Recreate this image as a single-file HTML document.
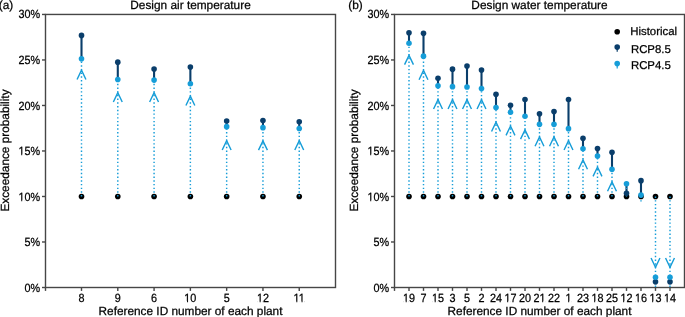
<!DOCTYPE html>
<html><head><meta charset="utf-8"><style>
html,body{margin:0;padding:0;background:#fff;}
body{width:685px;height:317px;overflow:hidden;}
svg{display:block;will-change:transform;}
text{font-family:"Liberation Sans", sans-serif;fill:#000;stroke:#000;stroke-width:0.25px;text-rendering:geometricPrecision;}
</style></head><body>
<svg width="685" height="317" viewBox="0 0 685 317">
<rect width="685" height="317" fill="#fff"/>
<rect x="45.5" y="14.45" width="290.0" height="273.05" fill="none" stroke="#464646" stroke-width="1.4"/>
<line x1="42.0" y1="287.50" x2="45.5" y2="287.50" stroke="#464646" stroke-width="1.4"/>
<text id="t1" transform="translate(40.20,292.00) scale(0.91,1)" text-anchor="end" font-size="11.9">0%</text>
<line x1="42.0" y1="241.99" x2="45.5" y2="241.99" stroke="#464646" stroke-width="1.4"/>
<text id="t2" transform="translate(40.20,246.00) scale(0.91,1)" text-anchor="end" font-size="11.9">5%</text>
<line x1="42.0" y1="196.48" x2="45.5" y2="196.48" stroke="#464646" stroke-width="1.4"/>
<text id="t3" transform="translate(40.20,201.00) scale(0.91,1)" text-anchor="end" font-size="11.9">10%</text><g transform="translate(40.20,201.00) scale(0.91,1)"><rect x="-23.49" y="-1.06" width="2.66" height="2.06" fill="#fff"/><rect x="-19.75" y="-1.06" width="2.39" height="2.06" fill="#fff"/></g>
<line x1="42.0" y1="150.97" x2="45.5" y2="150.97" stroke="#464646" stroke-width="1.4"/>
<text id="t4" transform="translate(40.20,155.00) scale(0.91,1)" text-anchor="end" font-size="11.9">15%</text><g transform="translate(40.20,155.00) scale(0.91,1)"><rect x="-23.49" y="-1.06" width="2.66" height="2.06" fill="#fff"/><rect x="-19.75" y="-1.06" width="2.39" height="2.06" fill="#fff"/></g>
<line x1="42.0" y1="105.47" x2="45.5" y2="105.47" stroke="#464646" stroke-width="1.4"/>
<text id="t5" transform="translate(40.20,110.00) scale(0.91,1)" text-anchor="end" font-size="11.9">20%</text>
<line x1="42.0" y1="59.96" x2="45.5" y2="59.96" stroke="#464646" stroke-width="1.4"/>
<text id="t6" transform="translate(40.20,64.00) scale(0.91,1)" text-anchor="end" font-size="11.9">25%</text>
<line x1="42.0" y1="14.45" x2="45.5" y2="14.45" stroke="#464646" stroke-width="1.4"/>
<text id="t7" transform="translate(40.20,18.00) scale(0.91,1)" text-anchor="end" font-size="11.9">30%</text>
<line x1="45.50" y1="287.5" x2="45.50" y2="290.9" stroke="#464646" stroke-width="1.4"/>
<line x1="81.50" y1="287.5" x2="81.50" y2="290.9" stroke="#464646" stroke-width="1.4"/>
<text id="t8" transform="translate(81.50,302.00) scale(0.91,1)" text-anchor="middle" font-size="11.9">8</text>
<line x1="117.79" y1="287.5" x2="117.79" y2="290.9" stroke="#464646" stroke-width="1.4"/>
<text id="t9" transform="translate(117.79,302.00) scale(0.91,1)" text-anchor="middle" font-size="11.9">9</text>
<line x1="154.08" y1="287.5" x2="154.08" y2="290.9" stroke="#464646" stroke-width="1.4"/>
<text id="t10" transform="translate(154.08,302.00) scale(0.91,1)" text-anchor="middle" font-size="11.9">6</text>
<line x1="190.37" y1="287.5" x2="190.37" y2="290.9" stroke="#464646" stroke-width="1.4"/>
<text id="t11" transform="translate(190.37,302.00) scale(0.91,1)" text-anchor="middle" font-size="11.9">10</text><g transform="translate(190.37,302.00) scale(0.91,1)"><rect x="-6.30" y="-1.06" width="2.66" height="2.06" fill="#fff"/><rect x="-2.56" y="-1.06" width="2.39" height="2.06" fill="#fff"/></g>
<line x1="226.66" y1="287.5" x2="226.66" y2="290.9" stroke="#464646" stroke-width="1.4"/>
<text id="t12" transform="translate(226.66,302.00) scale(0.91,1)" text-anchor="middle" font-size="11.9">5</text>
<line x1="262.95" y1="287.5" x2="262.95" y2="290.9" stroke="#464646" stroke-width="1.4"/>
<text id="t13" transform="translate(262.95,302.00) scale(0.91,1)" text-anchor="middle" font-size="11.9">12</text><g transform="translate(262.95,302.00) scale(0.91,1)"><rect x="-6.30" y="-1.06" width="2.66" height="2.06" fill="#fff"/><rect x="-2.56" y="-1.06" width="2.39" height="2.06" fill="#fff"/></g>
<line x1="299.24" y1="287.5" x2="299.24" y2="290.9" stroke="#464646" stroke-width="1.4"/>
<text id="t14" transform="translate(299.24,302.00) scale(0.91,1)" text-anchor="middle" font-size="11.9">11</text><g transform="translate(299.24,302.00) scale(0.91,1)"><rect x="-5.85" y="-1.06" width="2.66" height="2.06" fill="#fff"/><rect x="-2.11" y="-1.06" width="2.39" height="2.06" fill="#fff"/><rect x="-0.13" y="-1.06" width="2.66" height="2.06" fill="#fff"/><rect x="3.61" y="-1.06" width="2.39" height="2.06" fill="#fff"/></g>
<circle cx="81.50" cy="196.48" r="2.8" fill="#000"/>
<circle cx="117.79" cy="196.48" r="2.8" fill="#000"/>
<circle cx="154.08" cy="196.48" r="2.8" fill="#000"/>
<circle cx="190.37" cy="196.48" r="2.8" fill="#000"/>
<circle cx="226.66" cy="196.48" r="2.8" fill="#000"/>
<circle cx="262.95" cy="196.48" r="2.8" fill="#000"/>
<circle cx="299.24" cy="196.48" r="2.8" fill="#000"/>
<line x1="81.50" y1="35.4" x2="81.50" y2="58.8" stroke="#0a3e6b" stroke-width="2.1"/>
<line x1="117.79" y1="62.15" x2="117.79" y2="79.55" stroke="#0a3e6b" stroke-width="2.1"/>
<line x1="154.08" y1="69.05" x2="154.08" y2="80.1" stroke="#0a3e6b" stroke-width="2.1"/>
<line x1="190.37" y1="67.05" x2="190.37" y2="83.75" stroke="#0a3e6b" stroke-width="2.1"/>
<line x1="226.66" y1="120.95" x2="226.66" y2="126.65" stroke="#0a3e6b" stroke-width="2.1"/>
<line x1="262.95" y1="120.45" x2="262.95" y2="127.65" stroke="#0a3e6b" stroke-width="2.1"/>
<line x1="299.24" y1="121.75" x2="299.24" y2="128.55" stroke="#0a3e6b" stroke-width="2.1"/>
<line x1="81.50" y1="196.48" x2="81.50" y2="58.8" stroke="#169dd8" stroke-width="1.45" stroke-dasharray="1.4 2.31"/>
<line x1="117.79" y1="196.48" x2="117.79" y2="79.55" stroke="#169dd8" stroke-width="1.45" stroke-dasharray="1.4 2.31"/>
<line x1="154.08" y1="196.48" x2="154.08" y2="80.1" stroke="#169dd8" stroke-width="1.45" stroke-dasharray="1.4 2.31"/>
<line x1="190.37" y1="196.48" x2="190.37" y2="83.75" stroke="#169dd8" stroke-width="1.45" stroke-dasharray="1.4 2.31"/>
<line x1="226.66" y1="196.48" x2="226.66" y2="126.65" stroke="#169dd8" stroke-width="1.45" stroke-dasharray="1.4 2.31"/>
<line x1="262.95" y1="196.48" x2="262.95" y2="127.65" stroke="#169dd8" stroke-width="1.45" stroke-dasharray="1.4 2.31"/>
<line x1="299.24" y1="196.48" x2="299.24" y2="128.55" stroke="#169dd8" stroke-width="1.45" stroke-dasharray="1.4 2.31"/>
<circle cx="81.50" cy="35.4" r="2.8" fill="#0a3e6b"/>
<circle cx="117.79" cy="62.15" r="2.8" fill="#0a3e6b"/>
<circle cx="154.08" cy="69.05" r="2.8" fill="#0a3e6b"/>
<circle cx="190.37" cy="67.05" r="2.8" fill="#0a3e6b"/>
<circle cx="226.66" cy="120.95" r="2.8" fill="#0a3e6b"/>
<circle cx="262.95" cy="120.45" r="2.8" fill="#0a3e6b"/>
<circle cx="299.24" cy="121.75" r="2.8" fill="#0a3e6b"/>
<circle cx="81.50" cy="58.8" r="2.8" fill="#169dd8"/>
<circle cx="117.79" cy="79.55" r="2.8" fill="#169dd8"/>
<circle cx="154.08" cy="80.1" r="2.8" fill="#169dd8"/>
<circle cx="190.37" cy="83.75" r="2.8" fill="#169dd8"/>
<circle cx="226.66" cy="126.65" r="2.8" fill="#169dd8"/>
<circle cx="262.95" cy="127.65" r="2.8" fill="#169dd8"/>
<circle cx="299.24" cy="128.55" r="2.8" fill="#169dd8"/>
<path d="M77.05,79.55 L81.50,70.25 L85.95,79.55" fill="none" stroke="#169dd8" stroke-width="1.42" stroke-linejoin="miter" stroke-miterlimit="10"/>
<path d="M113.34,101.95 L117.79,92.65 L122.24,101.95" fill="none" stroke="#169dd8" stroke-width="1.42" stroke-linejoin="miter" stroke-miterlimit="10"/>
<path d="M149.63,101.95 L154.08,92.65 L158.53,101.95" fill="none" stroke="#169dd8" stroke-width="1.42" stroke-linejoin="miter" stroke-miterlimit="10"/>
<path d="M185.92,105.55 L190.37,96.25 L194.82,105.55" fill="none" stroke="#169dd8" stroke-width="1.42" stroke-linejoin="miter" stroke-miterlimit="10"/>
<path d="M222.21,149.95 L226.66,140.65 L231.11,149.95" fill="none" stroke="#169dd8" stroke-width="1.42" stroke-linejoin="miter" stroke-miterlimit="10"/>
<path d="M258.50,150.15 L262.95,140.85 L267.40,150.15" fill="none" stroke="#169dd8" stroke-width="1.42" stroke-linejoin="miter" stroke-miterlimit="10"/>
<path d="M294.79,150.00 L299.24,140.70 L303.69,150.00" fill="none" stroke="#169dd8" stroke-width="1.42" stroke-linejoin="miter" stroke-miterlimit="10"/>
<text id="t15" transform="translate(190.50,9.00)" text-anchor="middle" font-size="11.85">Design air temperature</text>
<text id="t16" transform="translate(-1.30,9.00)" text-anchor="start" font-size="11.85">(a)</text>
<text id="t17" transform="translate(190.50,315.00)" text-anchor="middle" font-size="11.82">Reference ID number of each plant</text>
<text id="t18" transform="translate(9.20,150.53) rotate(-90)" text-anchor="middle" font-size="11.82">Exceedance probability</text>
<rect x="394.5" y="14.45" width="290.0" height="273.05" fill="none" stroke="#464646" stroke-width="1.4"/>
<line x1="391.0" y1="287.50" x2="394.5" y2="287.50" stroke="#464646" stroke-width="1.4"/>
<text id="t19" transform="translate(389.20,292.00) scale(0.91,1)" text-anchor="end" font-size="11.9">0%</text>
<line x1="391.0" y1="241.99" x2="394.5" y2="241.99" stroke="#464646" stroke-width="1.4"/>
<text id="t20" transform="translate(389.20,246.00) scale(0.91,1)" text-anchor="end" font-size="11.9">5%</text>
<line x1="391.0" y1="196.48" x2="394.5" y2="196.48" stroke="#464646" stroke-width="1.4"/>
<text id="t21" transform="translate(389.20,201.00) scale(0.91,1)" text-anchor="end" font-size="11.9">10%</text><g transform="translate(389.20,201.00) scale(0.91,1)"><rect x="-23.49" y="-1.06" width="2.66" height="2.06" fill="#fff"/><rect x="-19.75" y="-1.06" width="2.39" height="2.06" fill="#fff"/></g>
<line x1="391.0" y1="150.97" x2="394.5" y2="150.97" stroke="#464646" stroke-width="1.4"/>
<text id="t22" transform="translate(389.20,155.00) scale(0.91,1)" text-anchor="end" font-size="11.9">15%</text><g transform="translate(389.20,155.00) scale(0.91,1)"><rect x="-23.49" y="-1.06" width="2.66" height="2.06" fill="#fff"/><rect x="-19.75" y="-1.06" width="2.39" height="2.06" fill="#fff"/></g>
<line x1="391.0" y1="105.47" x2="394.5" y2="105.47" stroke="#464646" stroke-width="1.4"/>
<text id="t23" transform="translate(389.20,110.00) scale(0.91,1)" text-anchor="end" font-size="11.9">20%</text>
<line x1="391.0" y1="59.96" x2="394.5" y2="59.96" stroke="#464646" stroke-width="1.4"/>
<text id="t24" transform="translate(389.20,64.00) scale(0.91,1)" text-anchor="end" font-size="11.9">25%</text>
<line x1="391.0" y1="14.45" x2="394.5" y2="14.45" stroke="#464646" stroke-width="1.4"/>
<text id="t25" transform="translate(389.20,18.00) scale(0.91,1)" text-anchor="end" font-size="11.9">30%</text>
<line x1="394.50" y1="287.5" x2="394.50" y2="290.9" stroke="#464646" stroke-width="1.4"/>
<line x1="409.00" y1="287.5" x2="409.00" y2="290.9" stroke="#464646" stroke-width="1.4"/>
<text id="t26" transform="translate(409.00,302.00) scale(0.91,1)" text-anchor="middle" font-size="11.9">19</text><g transform="translate(409.00,302.00) scale(0.91,1)"><rect x="-6.30" y="-1.06" width="2.66" height="2.06" fill="#fff"/><rect x="-2.56" y="-1.06" width="2.39" height="2.06" fill="#fff"/></g>
<line x1="423.50" y1="287.5" x2="423.50" y2="290.9" stroke="#464646" stroke-width="1.4"/>
<text id="t27" transform="translate(423.50,302.00) scale(0.91,1)" text-anchor="middle" font-size="11.9">7</text>
<line x1="438.00" y1="287.5" x2="438.00" y2="290.9" stroke="#464646" stroke-width="1.4"/>
<text id="t28" transform="translate(438.00,302.00) scale(0.91,1)" text-anchor="middle" font-size="11.9">15</text><g transform="translate(438.00,302.00) scale(0.91,1)"><rect x="-6.30" y="-1.06" width="2.66" height="2.06" fill="#fff"/><rect x="-2.56" y="-1.06" width="2.39" height="2.06" fill="#fff"/></g>
<line x1="452.50" y1="287.5" x2="452.50" y2="290.9" stroke="#464646" stroke-width="1.4"/>
<text id="t29" transform="translate(452.50,302.00) scale(0.91,1)" text-anchor="middle" font-size="11.9">3</text>
<line x1="467.00" y1="287.5" x2="467.00" y2="290.9" stroke="#464646" stroke-width="1.4"/>
<text id="t30" transform="translate(467.00,302.00) scale(0.91,1)" text-anchor="middle" font-size="11.9">5</text>
<line x1="481.50" y1="287.5" x2="481.50" y2="290.9" stroke="#464646" stroke-width="1.4"/>
<text id="t31" transform="translate(481.50,302.00) scale(0.91,1)" text-anchor="middle" font-size="11.9">2</text>
<line x1="496.00" y1="287.5" x2="496.00" y2="290.9" stroke="#464646" stroke-width="1.4"/>
<text id="t32" transform="translate(496.00,302.00) scale(0.91,1)" text-anchor="middle" font-size="11.9">24</text>
<line x1="510.50" y1="287.5" x2="510.50" y2="290.9" stroke="#464646" stroke-width="1.4"/>
<text id="t33" transform="translate(510.50,302.00) scale(0.91,1)" text-anchor="middle" font-size="11.9">17</text><g transform="translate(510.50,302.00) scale(0.91,1)"><rect x="-6.30" y="-1.06" width="2.66" height="2.06" fill="#fff"/><rect x="-2.56" y="-1.06" width="2.39" height="2.06" fill="#fff"/></g>
<line x1="525.00" y1="287.5" x2="525.00" y2="290.9" stroke="#464646" stroke-width="1.4"/>
<text id="t34" transform="translate(525.00,302.00) scale(0.91,1)" text-anchor="middle" font-size="11.9">20</text>
<line x1="539.50" y1="287.5" x2="539.50" y2="290.9" stroke="#464646" stroke-width="1.4"/>
<text id="t35" transform="translate(539.50,302.00) scale(0.91,1)" text-anchor="middle" font-size="11.9">21</text><g transform="translate(539.50,302.00) scale(0.91,1)"><rect x="0.31" y="-1.06" width="2.66" height="2.06" fill="#fff"/><rect x="4.05" y="-1.06" width="2.39" height="2.06" fill="#fff"/></g>
<line x1="554.00" y1="287.5" x2="554.00" y2="290.9" stroke="#464646" stroke-width="1.4"/>
<text id="t36" transform="translate(554.00,302.00) scale(0.91,1)" text-anchor="middle" font-size="11.9">22</text>
<line x1="568.50" y1="287.5" x2="568.50" y2="290.9" stroke="#464646" stroke-width="1.4"/>
<text id="t37" transform="translate(568.50,302.00) scale(0.91,1)" text-anchor="middle" font-size="11.9">1</text><g transform="translate(568.50,302.00) scale(0.91,1)"><rect x="-2.99" y="-1.06" width="2.66" height="2.06" fill="#fff"/><rect x="0.75" y="-1.06" width="2.39" height="2.06" fill="#fff"/></g>
<line x1="583.00" y1="287.5" x2="583.00" y2="290.9" stroke="#464646" stroke-width="1.4"/>
<text id="t38" transform="translate(583.00,302.00) scale(0.91,1)" text-anchor="middle" font-size="11.9">23</text>
<line x1="597.50" y1="287.5" x2="597.50" y2="290.9" stroke="#464646" stroke-width="1.4"/>
<text id="t39" transform="translate(597.50,302.00) scale(0.91,1)" text-anchor="middle" font-size="11.9">18</text><g transform="translate(597.50,302.00) scale(0.91,1)"><rect x="-6.30" y="-1.06" width="2.66" height="2.06" fill="#fff"/><rect x="-2.56" y="-1.06" width="2.39" height="2.06" fill="#fff"/></g>
<line x1="612.00" y1="287.5" x2="612.00" y2="290.9" stroke="#464646" stroke-width="1.4"/>
<text id="t40" transform="translate(612.00,302.00) scale(0.91,1)" text-anchor="middle" font-size="11.9">25</text>
<line x1="626.50" y1="287.5" x2="626.50" y2="290.9" stroke="#464646" stroke-width="1.4"/>
<text id="t41" transform="translate(626.50,302.00) scale(0.91,1)" text-anchor="middle" font-size="11.9">12</text><g transform="translate(626.50,302.00) scale(0.91,1)"><rect x="-6.30" y="-1.06" width="2.66" height="2.06" fill="#fff"/><rect x="-2.56" y="-1.06" width="2.39" height="2.06" fill="#fff"/></g>
<line x1="641.00" y1="287.5" x2="641.00" y2="290.9" stroke="#464646" stroke-width="1.4"/>
<text id="t42" transform="translate(641.00,302.00) scale(0.91,1)" text-anchor="middle" font-size="11.9">16</text><g transform="translate(641.00,302.00) scale(0.91,1)"><rect x="-6.30" y="-1.06" width="2.66" height="2.06" fill="#fff"/><rect x="-2.56" y="-1.06" width="2.39" height="2.06" fill="#fff"/></g>
<line x1="655.50" y1="287.5" x2="655.50" y2="290.9" stroke="#464646" stroke-width="1.4"/>
<text id="t43" transform="translate(655.50,302.00) scale(0.91,1)" text-anchor="middle" font-size="11.9">13</text><g transform="translate(655.50,302.00) scale(0.91,1)"><rect x="-6.30" y="-1.06" width="2.66" height="2.06" fill="#fff"/><rect x="-2.56" y="-1.06" width="2.39" height="2.06" fill="#fff"/></g>
<line x1="670.00" y1="287.5" x2="670.00" y2="290.9" stroke="#464646" stroke-width="1.4"/>
<text id="t44" transform="translate(670.00,302.00) scale(0.91,1)" text-anchor="middle" font-size="11.9">14</text><g transform="translate(670.00,302.00) scale(0.91,1)"><rect x="-6.30" y="-1.06" width="2.66" height="2.06" fill="#fff"/><rect x="-2.56" y="-1.06" width="2.39" height="2.06" fill="#fff"/></g>
<circle cx="409.00" cy="196.48" r="2.8" fill="#000"/>
<circle cx="423.50" cy="196.48" r="2.8" fill="#000"/>
<circle cx="438.00" cy="196.48" r="2.8" fill="#000"/>
<circle cx="452.50" cy="196.48" r="2.8" fill="#000"/>
<circle cx="467.00" cy="196.48" r="2.8" fill="#000"/>
<circle cx="481.50" cy="196.48" r="2.8" fill="#000"/>
<circle cx="496.00" cy="196.48" r="2.8" fill="#000"/>
<circle cx="510.50" cy="196.48" r="2.8" fill="#000"/>
<circle cx="525.00" cy="196.48" r="2.8" fill="#000"/>
<circle cx="539.50" cy="196.48" r="2.8" fill="#000"/>
<circle cx="554.00" cy="196.48" r="2.8" fill="#000"/>
<circle cx="568.50" cy="196.48" r="2.8" fill="#000"/>
<circle cx="583.00" cy="196.48" r="2.8" fill="#000"/>
<circle cx="597.50" cy="196.48" r="2.8" fill="#000"/>
<circle cx="612.00" cy="196.48" r="2.8" fill="#000"/>
<circle cx="626.50" cy="196.48" r="2.8" fill="#000"/>
<circle cx="641.00" cy="196.48" r="2.8" fill="#000"/>
<circle cx="655.50" cy="196.48" r="2.8" fill="#000"/>
<circle cx="670.00" cy="196.48" r="2.8" fill="#000"/>
<line x1="409.00" y1="32.85" x2="409.00" y2="43.25" stroke="#0a3e6b" stroke-width="2.1"/>
<line x1="423.50" y1="33.35" x2="423.50" y2="56.15" stroke="#0a3e6b" stroke-width="2.1"/>
<line x1="438.00" y1="78.25" x2="438.00" y2="85.85" stroke="#0a3e6b" stroke-width="2.1"/>
<line x1="452.50" y1="69.15" x2="452.50" y2="86.65" stroke="#0a3e6b" stroke-width="2.1"/>
<line x1="467.00" y1="65.95" x2="467.00" y2="87.05" stroke="#0a3e6b" stroke-width="2.1"/>
<line x1="481.50" y1="70.05" x2="481.50" y2="88.55" stroke="#0a3e6b" stroke-width="2.1"/>
<line x1="496.00" y1="94.35" x2="496.00" y2="107.55" stroke="#0a3e6b" stroke-width="2.1"/>
<line x1="510.50" y1="105.25" x2="510.50" y2="112.25" stroke="#0a3e6b" stroke-width="2.1"/>
<line x1="525.00" y1="99.45" x2="525.00" y2="116.25" stroke="#0a3e6b" stroke-width="2.1"/>
<line x1="539.50" y1="113.85" x2="539.50" y2="124.35" stroke="#0a3e6b" stroke-width="2.1"/>
<line x1="554.00" y1="111.55" x2="554.00" y2="124.35" stroke="#0a3e6b" stroke-width="2.1"/>
<line x1="568.50" y1="99.45" x2="568.50" y2="128.65" stroke="#0a3e6b" stroke-width="2.1"/>
<line x1="583.00" y1="138.35" x2="583.00" y2="148.75" stroke="#0a3e6b" stroke-width="2.1"/>
<line x1="597.50" y1="148.55" x2="597.50" y2="156.05" stroke="#0a3e6b" stroke-width="2.1"/>
<line x1="612.00" y1="152.35" x2="612.00" y2="169.2" stroke="#0a3e6b" stroke-width="2.1"/>
<line x1="626.50" y1="193.25" x2="626.50" y2="183.7" stroke="#0a3e6b" stroke-width="2.1"/>
<line x1="641.00" y1="180.65" x2="641.00" y2="194.95" stroke="#0a3e6b" stroke-width="2.1"/>
<line x1="655.50" y1="281.85" x2="655.50" y2="277.25" stroke="#0a3e6b" stroke-width="2.1"/>
<line x1="670.00" y1="281.85" x2="670.00" y2="277.25" stroke="#0a3e6b" stroke-width="2.1"/>
<line x1="409.00" y1="196.48" x2="409.00" y2="43.25" stroke="#169dd8" stroke-width="1.45" stroke-dasharray="1.4 2.31"/>
<line x1="423.50" y1="196.48" x2="423.50" y2="56.15" stroke="#169dd8" stroke-width="1.45" stroke-dasharray="1.4 2.31"/>
<line x1="438.00" y1="196.48" x2="438.00" y2="85.85" stroke="#169dd8" stroke-width="1.45" stroke-dasharray="1.4 2.31"/>
<line x1="452.50" y1="196.48" x2="452.50" y2="86.65" stroke="#169dd8" stroke-width="1.45" stroke-dasharray="1.4 2.31"/>
<line x1="467.00" y1="196.48" x2="467.00" y2="87.05" stroke="#169dd8" stroke-width="1.45" stroke-dasharray="1.4 2.31"/>
<line x1="481.50" y1="196.48" x2="481.50" y2="88.55" stroke="#169dd8" stroke-width="1.45" stroke-dasharray="1.4 2.31"/>
<line x1="496.00" y1="196.48" x2="496.00" y2="107.55" stroke="#169dd8" stroke-width="1.45" stroke-dasharray="1.4 2.31"/>
<line x1="510.50" y1="196.48" x2="510.50" y2="112.25" stroke="#169dd8" stroke-width="1.45" stroke-dasharray="1.4 2.31"/>
<line x1="525.00" y1="196.48" x2="525.00" y2="116.25" stroke="#169dd8" stroke-width="1.45" stroke-dasharray="1.4 2.31"/>
<line x1="539.50" y1="196.48" x2="539.50" y2="124.35" stroke="#169dd8" stroke-width="1.45" stroke-dasharray="1.4 2.31"/>
<line x1="554.00" y1="196.48" x2="554.00" y2="124.35" stroke="#169dd8" stroke-width="1.45" stroke-dasharray="1.4 2.31"/>
<line x1="568.50" y1="196.48" x2="568.50" y2="128.65" stroke="#169dd8" stroke-width="1.45" stroke-dasharray="1.4 2.31"/>
<line x1="583.00" y1="196.48" x2="583.00" y2="148.75" stroke="#169dd8" stroke-width="1.45" stroke-dasharray="1.4 2.31"/>
<line x1="597.50" y1="196.48" x2="597.50" y2="156.05" stroke="#169dd8" stroke-width="1.45" stroke-dasharray="1.4 2.31"/>
<line x1="612.00" y1="196.48" x2="612.00" y2="169.2" stroke="#169dd8" stroke-width="1.45" stroke-dasharray="1.4 2.31"/>
<line x1="626.50" y1="196.48" x2="626.50" y2="183.7" stroke="#169dd8" stroke-width="1.45" stroke-dasharray="1.4 2.31"/>
<line x1="641.00" y1="196.48" x2="641.00" y2="194.95" stroke="#169dd8" stroke-width="1.45" stroke-dasharray="1.4 2.31"/>
<line x1="641.00" y1="196.48" x2="641.00" y2="201.78" stroke="#169dd8" stroke-width="1.45" stroke-dasharray="1.4 2.31"/>
<line x1="655.50" y1="196.48" x2="655.50" y2="287.5" stroke="#169dd8" stroke-width="1.45" stroke-dasharray="1.4 2.31"/>
<line x1="670.00" y1="196.48" x2="670.00" y2="287.5" stroke="#169dd8" stroke-width="1.45" stroke-dasharray="1.4 2.31"/>
<circle cx="409.00" cy="32.85" r="2.8" fill="#0a3e6b"/>
<circle cx="423.50" cy="33.35" r="2.8" fill="#0a3e6b"/>
<circle cx="438.00" cy="78.25" r="2.8" fill="#0a3e6b"/>
<circle cx="452.50" cy="69.15" r="2.8" fill="#0a3e6b"/>
<circle cx="467.00" cy="65.95" r="2.8" fill="#0a3e6b"/>
<circle cx="481.50" cy="70.05" r="2.8" fill="#0a3e6b"/>
<circle cx="496.00" cy="94.35" r="2.8" fill="#0a3e6b"/>
<circle cx="510.50" cy="105.25" r="2.8" fill="#0a3e6b"/>
<circle cx="525.00" cy="99.45" r="2.8" fill="#0a3e6b"/>
<circle cx="539.50" cy="113.85" r="2.8" fill="#0a3e6b"/>
<circle cx="554.00" cy="111.55" r="2.8" fill="#0a3e6b"/>
<circle cx="568.50" cy="99.45" r="2.8" fill="#0a3e6b"/>
<circle cx="583.00" cy="138.35" r="2.8" fill="#0a3e6b"/>
<circle cx="597.50" cy="148.55" r="2.8" fill="#0a3e6b"/>
<circle cx="612.00" cy="152.35" r="2.8" fill="#0a3e6b"/>
<circle cx="626.50" cy="193.25" r="2.8" fill="#0a3e6b"/>
<circle cx="641.00" cy="180.65" r="2.8" fill="#0a3e6b"/>
<circle cx="655.50" cy="281.85" r="2.8" fill="#0a3e6b"/>
<circle cx="670.00" cy="281.85" r="2.8" fill="#0a3e6b"/>
<circle cx="409.00" cy="43.25" r="2.8" fill="#169dd8"/>
<circle cx="423.50" cy="56.15" r="2.8" fill="#169dd8"/>
<circle cx="438.00" cy="85.85" r="2.8" fill="#169dd8"/>
<circle cx="452.50" cy="86.65" r="2.8" fill="#169dd8"/>
<circle cx="467.00" cy="87.05" r="2.8" fill="#169dd8"/>
<circle cx="481.50" cy="88.55" r="2.8" fill="#169dd8"/>
<circle cx="496.00" cy="107.55" r="2.8" fill="#169dd8"/>
<circle cx="510.50" cy="112.25" r="2.8" fill="#169dd8"/>
<circle cx="525.00" cy="116.25" r="2.8" fill="#169dd8"/>
<circle cx="539.50" cy="124.35" r="2.8" fill="#169dd8"/>
<circle cx="554.00" cy="124.35" r="2.8" fill="#169dd8"/>
<circle cx="568.50" cy="128.65" r="2.8" fill="#169dd8"/>
<circle cx="583.00" cy="148.75" r="2.8" fill="#169dd8"/>
<circle cx="597.50" cy="156.05" r="2.8" fill="#169dd8"/>
<circle cx="612.00" cy="169.2" r="2.8" fill="#169dd8"/>
<circle cx="626.50" cy="183.7" r="2.8" fill="#169dd8"/>
<circle cx="641.00" cy="194.95" r="2.8" fill="#169dd8"/>
<circle cx="655.50" cy="277.25" r="2.8" fill="#169dd8"/>
<circle cx="670.00" cy="277.25" r="2.8" fill="#169dd8"/>
<path d="M404.55,64.65 L409.00,55.35 L413.45,64.65" fill="none" stroke="#169dd8" stroke-width="1.42" stroke-linejoin="miter" stroke-miterlimit="10"/>
<path d="M419.05,79.75 L423.50,70.45 L427.95,79.75" fill="none" stroke="#169dd8" stroke-width="1.42" stroke-linejoin="miter" stroke-miterlimit="10"/>
<path d="M433.55,109.05 L438.00,99.75 L442.45,109.05" fill="none" stroke="#169dd8" stroke-width="1.42" stroke-linejoin="miter" stroke-miterlimit="10"/>
<path d="M448.05,109.05 L452.50,99.75 L456.95,109.05" fill="none" stroke="#169dd8" stroke-width="1.42" stroke-linejoin="miter" stroke-miterlimit="10"/>
<path d="M462.55,109.05 L467.00,99.75 L471.45,109.05" fill="none" stroke="#169dd8" stroke-width="1.42" stroke-linejoin="miter" stroke-miterlimit="10"/>
<path d="M477.05,109.05 L481.50,99.75 L485.95,109.05" fill="none" stroke="#169dd8" stroke-width="1.42" stroke-linejoin="miter" stroke-miterlimit="10"/>
<path d="M491.55,131.55 L496.00,122.25 L500.45,131.55" fill="none" stroke="#169dd8" stroke-width="1.42" stroke-linejoin="miter" stroke-miterlimit="10"/>
<path d="M506.05,135.35 L510.50,126.05 L514.95,135.35" fill="none" stroke="#169dd8" stroke-width="1.42" stroke-linejoin="miter" stroke-miterlimit="10"/>
<path d="M520.55,139.15 L525.00,129.85 L529.45,139.15" fill="none" stroke="#169dd8" stroke-width="1.42" stroke-linejoin="miter" stroke-miterlimit="10"/>
<path d="M535.05,146.25 L539.50,136.95 L543.95,146.25" fill="none" stroke="#169dd8" stroke-width="1.42" stroke-linejoin="miter" stroke-miterlimit="10"/>
<path d="M549.55,146.25 L554.00,136.95 L558.45,146.25" fill="none" stroke="#169dd8" stroke-width="1.42" stroke-linejoin="miter" stroke-miterlimit="10"/>
<path d="M564.05,150.05 L568.50,140.75 L572.95,150.05" fill="none" stroke="#169dd8" stroke-width="1.42" stroke-linejoin="miter" stroke-miterlimit="10"/>
<path d="M578.55,169.30 L583.00,160.00 L587.45,169.30" fill="none" stroke="#169dd8" stroke-width="1.42" stroke-linejoin="miter" stroke-miterlimit="10"/>
<path d="M593.05,176.35 L597.50,167.05 L601.95,176.35" fill="none" stroke="#169dd8" stroke-width="1.42" stroke-linejoin="miter" stroke-miterlimit="10"/>
<path d="M607.55,191.25 L612.00,181.95 L616.45,191.25" fill="none" stroke="#169dd8" stroke-width="1.42" stroke-linejoin="miter" stroke-miterlimit="10"/>
<path d="M651.05,257.95 L655.50,267.25 L659.95,257.95" fill="none" stroke="#169dd8" stroke-width="1.42" stroke-linejoin="miter" stroke-miterlimit="10"/>
<path d="M665.55,257.95 L670.00,267.25 L674.45,257.95" fill="none" stroke="#169dd8" stroke-width="1.42" stroke-linejoin="miter" stroke-miterlimit="10"/>
<text id="t45" transform="translate(539.50,9.00)" text-anchor="middle" font-size="11.85">Design water temperature</text>
<text id="t46" transform="translate(348.20,9.00)" text-anchor="start" font-size="11.85">(b)</text>
<text id="t47" transform="translate(539.50,315.00)" text-anchor="middle" font-size="11.82">Reference ID number of each plant</text>
<text id="t48" transform="translate(358.20,150.53) rotate(-90)" text-anchor="middle" font-size="11.82">Exceedance probability</text>
<circle cx="617.2" cy="31.8" r="2.8" fill="#000"/>
<line x1="617.2" y1="47.1" x2="617.2" y2="51.8" stroke="#0a3e6b" stroke-width="1.2"/>
<circle cx="617.2" cy="47.1" r="2.8" fill="#0a3e6b"/>
<line x1="617.2" y1="63.6" x2="617.2" y2="68.4" stroke="#169dd8" stroke-width="1.2"/>
<circle cx="617.2" cy="63.6" r="2.8" fill="#169dd8"/>
<text id="t49" transform="translate(630.20,35.00)" text-anchor="start" font-size="11.4">Historical</text>
<text id="t50" transform="translate(630.90,53.00)" text-anchor="start" font-size="11.4">RCP8.5</text>
<text id="t51" transform="translate(630.90,69.00)" text-anchor="start" font-size="11.4">RCP4.5</text>
</svg>
</body></html>
